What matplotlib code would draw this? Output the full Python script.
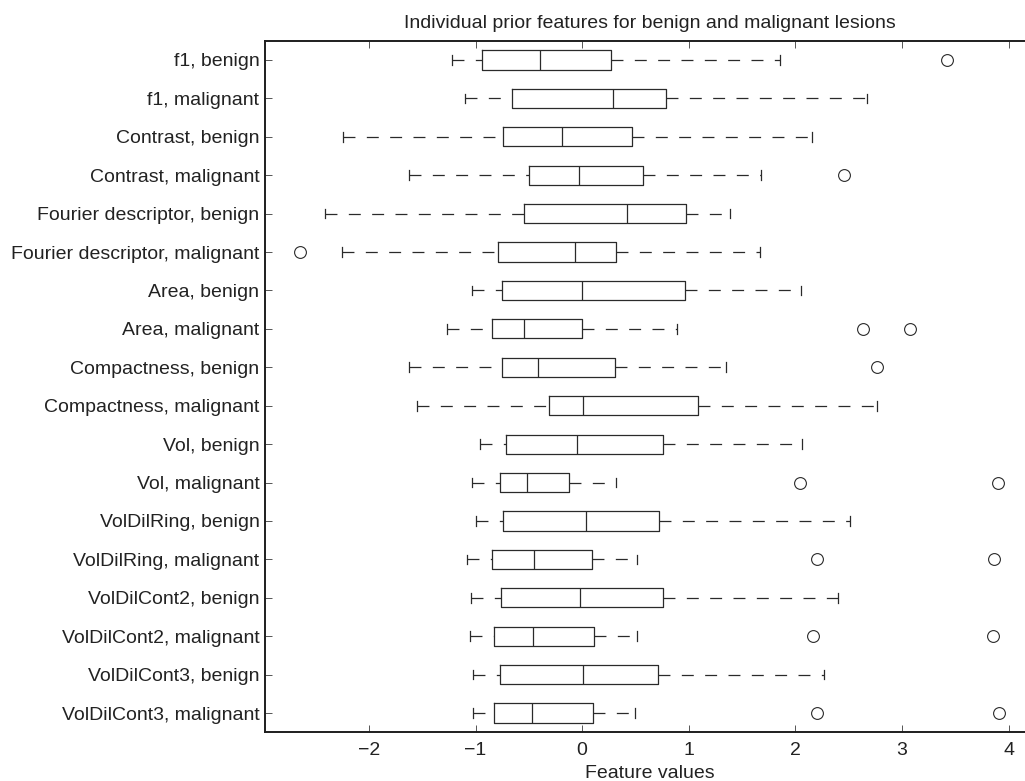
import numpy as np
import matplotlib
matplotlib.use("Agg")
import matplotlib.pyplot as plt

plt.rcParams["font.family"] = ["Liberation Sans", "DejaVu Sans"]
plt.rcParams["lines.scale_dashes"] = False

labels = [
    "f1, benign", "f1, malignant",
    "Contrast, benign", "Contrast, malignant",
    "Fourier descriptor, benign", "Fourier descriptor, malignant",
    "Area, benign", "Area, malignant",
    "Compactness, benign", "Compactness, malignant",
    "Vol, benign", "Vol, malignant",
    "VolDilRing, benign", "VolDilRing, malignant",
    "VolDilCont2, benign", "VolDilCont2, malignant",
    "VolDilCont3, benign", "VolDilCont3, malignant",
]
whislo = [-1.22, -1.10, -2.24, -1.62, -2.41, -2.25, -1.03, -1.27, -1.62,
          -1.55, -0.96, -1.03, -1.00, -1.08, -1.04, -1.05, -1.02, -1.02]
q1 = [-0.94, -0.66, -0.74, -0.50, -0.55, -0.79, -0.75, -0.85, -0.75,
      -0.31, -0.71, -0.77, -0.74, -0.85, -0.76, -0.83, -0.77, -0.83]
med = [-0.40, 0.29, -0.19, -0.03, 0.42, -0.07, 0.00, -0.55, -0.41,
       0.01, -0.05, -0.52, 0.04, -0.45, -0.02, -0.46, 0.01, -0.47]
q3 = [0.27, 0.79, 0.47, 0.57, 0.97, 0.32, 0.96, 0.00, 0.31,
      1.09, 0.76, -0.12, 0.72, 0.09, 0.76, 0.11, 0.71, 0.10]
whishi = [1.86, 2.67, 2.16, 1.68, 1.39, 1.67, 2.05, 0.89, 1.35,
          2.77, 2.06, 0.32, 2.51, 0.51, 2.40, 0.51, 2.27, 0.50]
fliers = [[3.42], [], [], [2.46], [], [-2.65], [], [2.63, 3.08], [2.77],
          [], [], [2.04, 3.90], [], [2.20, 3.86], [], [2.17, 3.85], [], [2.20, 3.91]]
xticks = [-2, -1, 0, 1, 2, 3, 4]

stats = []
for i in range(len(labels)):
    stats.append(dict(label=labels[i], whislo=whislo[i], q1=q1[i], med=med[i],
                      q3=q3[i], whishi=whishi[i], fliers=fliers[i]))

line_col = "#2a2a2a"
fig = plt.figure(figsize=(10.25, 7.81), dpi=100)
ax = fig.add_axes([265 / 1025, (781 - 732.3) / 781, (1034 - 265) / 1025, (732.3 - 40.7) / 781])

positions = np.arange(1, len(labels) + 1)
parts = ax.bxp(
    stats,
    positions=positions,
    widths=0.5,
    orientation="horizontal",
    boxprops=dict(color=line_col, linewidth=0.9),
    medianprops=dict(color=line_col, linewidth=0.9),
    whiskerprops=dict(color=line_col, linewidth=0.9, linestyle=(0, (8.6, 8.2))),
    capprops=dict(color=line_col, linewidth=0.9),
    flierprops=dict(marker="o", markersize=8.5, markerfacecolor="none",
                    markeredgecolor=line_col, markeredgewidth=0.8, linestyle="none"),
)
# lower whiskers: start dash pattern at the cap end, like the original
for w in parts["whiskers"][0::2]:
    w.set_xdata(w.get_xdata()[::-1])
    w.set_ydata(w.get_ydata()[::-1])

ax.set_ylim(len(labels) + 0.5, 0.5)
ax.set_xlim((265 - 582.17) / 106.6, (1034 - 582.17) / 106.6)
ax.set_yticks(positions)
ax.set_yticklabels(labels)
ax.set_xticks(xticks)

for s in ax.spines.values():
    s.set_linewidth(1.4)
    s.set_color("#1e1e1e")
ax.spines["right"].set_visible(False)

ax.tick_params(axis="x", direction="in", length=5, width=0.7, color="#555555",
               top=True, labelsize=14, pad=7, labelcolor="#222222")
ax.tick_params(axis="y", direction="in", length=5, width=0.7, color="#555555",
               right=False, labelsize=14, pad=4, labelcolor="#222222")

ax.set_title("Individual prior features for benign and malignant lesions",
             fontsize=14, color="#222222", pad=9)
ax.set_xlabel("Feature values", fontsize=14, color="#222222", labelpad=4)

fig.savefig("out.png", dpi=100)
